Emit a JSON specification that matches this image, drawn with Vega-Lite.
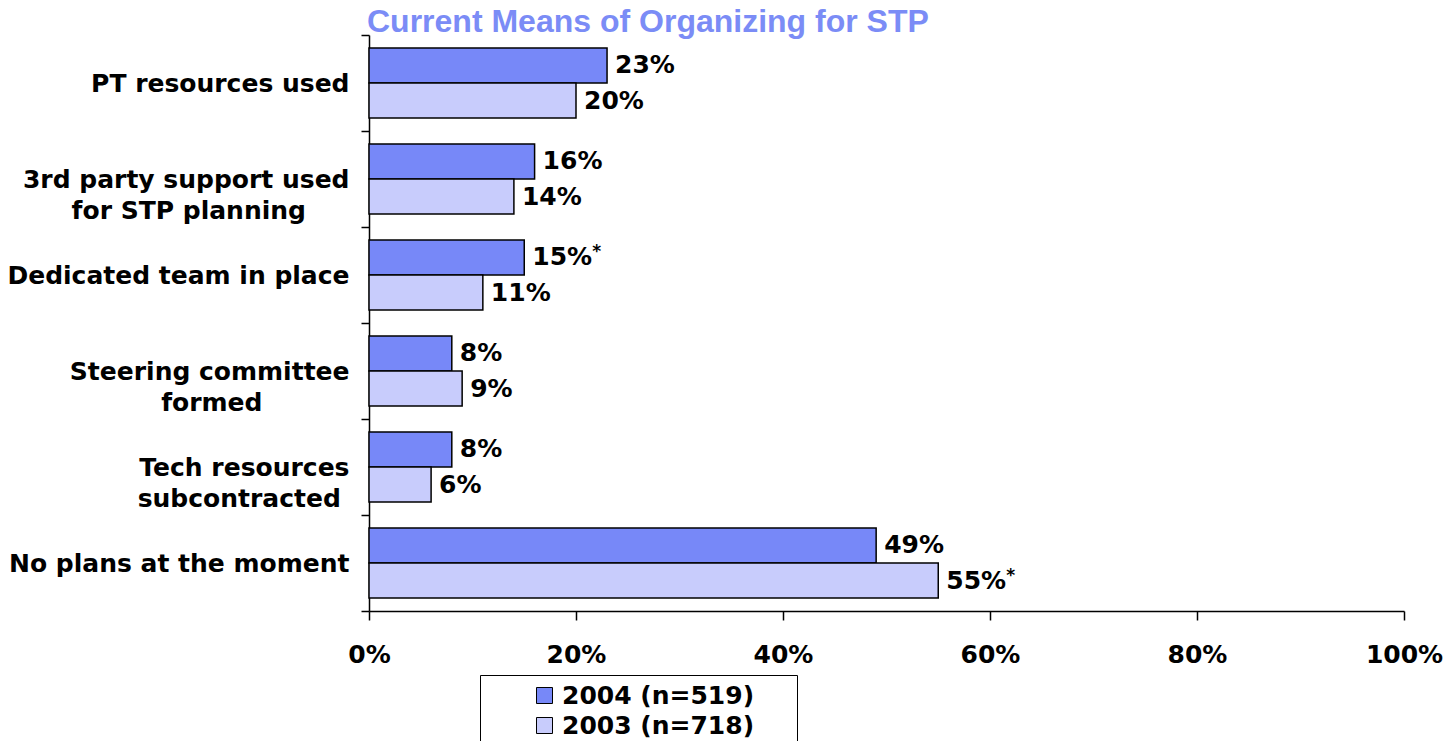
{
  "$schema": "https://vega.github.io/schema/vega-lite/v6.json",
  "width": 1035,
  "height": 576,
  "autosize": "none",
  "padding": {"left": 369, "top": 35, "right": 44, "bottom": 130},
  "background": "white",
  "title": {
    "text": "Current Means of Organizing for STP",
    "anchor": "start",
    "frame": "group",
    "font": "Liberation Sans",
    "fontSize": 32,
    "fontWeight": "bold",
    "color": "#7b8cf6",
    "offset": 3,
    "dx": -2,
    "dy": 19
  },
  "config": {"view": {"stroke": null}},
  "data": {
    "values": [
      {"category": "PT resources used", "series": "2004 (n=519)", "value": 23, "label": "23%", "star": false},
      {"category": "PT resources used", "series": "2003 (n=718)", "value": 20, "label": "20%", "star": false},
      {"category": "3rd party support used\nfor STP planning\u00a0\u00a0\u00a0\u00a0\u00a0\u200b", "series": "2004 (n=519)", "value": 16, "label": "16%", "star": false},
      {"category": "3rd party support used\nfor STP planning\u00a0\u00a0\u00a0\u00a0\u00a0\u200b", "series": "2003 (n=718)", "value": 14, "label": "14%", "star": false},
      {"category": "Dedicated team in place", "series": "2004 (n=519)", "value": 15, "label": "15%", "star": true},
      {"category": "Dedicated team in place", "series": "2003 (n=718)", "value": 11, "label": "11%", "star": false},
      {"category": "Steering committee\nformed\u00a0\u00a0\u00a0\u00a0\u00a0\u00a0\u00a0\u00a0\u00a0\u00a0\u200b", "series": "2004 (n=519)", "value": 8, "label": "8%", "star": false},
      {"category": "Steering committee\nformed\u00a0\u00a0\u00a0\u00a0\u00a0\u00a0\u00a0\u00a0\u00a0\u00a0\u200b", "series": "2003 (n=718)", "value": 9, "label": "9%", "star": false},
      {"category": "Tech resources\nsubcontracted\u00a0\u200b", "series": "2004 (n=519)", "value": 8, "label": "8%", "star": false},
      {"category": "Tech resources\nsubcontracted\u00a0\u200b", "series": "2003 (n=718)", "value": 6, "label": "6%", "star": false},
      {"category": "No plans at the moment", "series": "2004 (n=519)", "value": 49, "label": "49%", "star": false},
      {"category": "No plans at the moment", "series": "2003 (n=718)", "value": 55, "label": "55%", "star": true}
    ]
  },
  "encoding": {
    "y": {
      "field": "category",
      "type": "nominal",
      "sort": null,
      "scale": {"paddingInner": 0, "paddingOuter": 0},
      "axis": {
        "title": null,
        "domain": true,
        "domainColor": "black",
        "domainWidth": 1.5,
        "ticks": true,
        "tickColor": "black",
        "tickWidth": 1.5,
        "tickSize": 8,
        "tickBand": "extent",
        "labelFont": "DejaVu Sans",
        "labelFontSize": 25,
        "labelFontWeight": "bold",
        "labelColor": "black",
        "labelPadding": 12,
        "labelLineHeight": 31,
        "labelLimit": 0,
        "labelExpr": "split(datum.label, '\\n')"
      }
    },
    "x": {
      "field": "value",
      "type": "quantitative",
      "scale": {"domain": [0, 100], "nice": false},
      "axis": {
        "title": null,
        "grid": false,
        "values": [0, 20, 40, 60, 80, 100],
        "labelExpr": "datum.value + '%'",
        "domainColor": "black",
        "domainWidth": 1.5,
        "tickColor": "black",
        "tickWidth": 1.5,
        "tickSize": 9,
        "labelPadding": 22,
        "labelFont": "DejaVu Sans",
        "labelFontSize": 25,
        "labelFontWeight": "bold",
        "labelColor": "black",
        "labelFlush": false
      }
    },
    "yOffset": {
      "field": "series",
      "type": "nominal",
      "sort": ["2004 (n=519)", "2003 (n=718)"],
      "scale": {"paddingOuter": 0.37, "paddingInner": 0}
    }
  },
  "layer": [
    {
      "mark": {"type": "bar", "stroke": "black", "strokeWidth": 1.5},
      "encoding": {
        "color": {
          "field": "series",
          "type": "nominal",
          "scale": {"domain": ["2004 (n=519)", "2003 (n=718)"], "range": ["#7788f8", "#c8ccfc"]},
          "legend": {
            "orient": "none",
            "legendX": 111,
            "legendY": 640,
            "title": null,
            "strokeColor": "black",
            "padding": 8,
            "symbolType": "square",
            "symbolSize": 256,
            "symbolStrokeColor": "black",
            "symbolStrokeWidth": 1,
            "symbolOffset": 44,
            "labelFont": "DejaVu Sans",
            "labelFontSize": 25,
            "labelFontWeight": "bold",
            "labelColor": "black",
            "labelOffset": 5,
            "labelLimit": 0,
            "rowPadding": 4,
            "labelExpr": "datum.label + '\u00a0\u00a0\u00a0\u00a0\u200b'"
          }
        }
      }
    },
    {
      "mark": {"type": "text", "align": "left", "baseline": "middle", "dx": 8, "font": "DejaVu Sans", "fontSize": 25, "fontWeight": "bold", "color": "black"},
      "encoding": {"text": {"field": "label"}}
    },
    {
      "transform": [{"filter": "datum.star"}],
      "mark": {"type": "text", "align": "left", "baseline": "middle", "dx": 68, "dy": -5, "font": "DejaVu Sans", "fontSize": 17, "fontWeight": "bold", "color": "black"},
      "encoding": {"text": {"value": "*"}}
    }
  ]
}
